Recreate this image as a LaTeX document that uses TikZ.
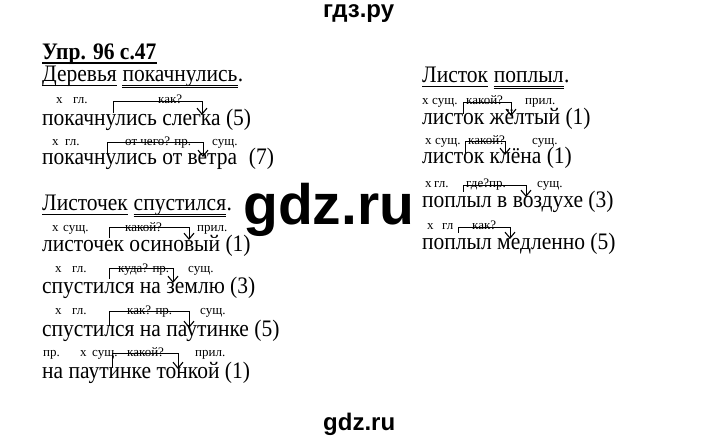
\documentclass[tikz,border=0pt]{standalone}
\usepackage{graphicx}
\usepackage{fontspec}
\setmainfont{Liberation Serif}
\newfontfamily\arsans{Liberation Sans}
\usetikzlibrary{arrows.meta}
\newcommand\tallt[1]{\scalebox{1}[1.1]{#1}}
\begin{document}
\begin{tikzpicture}[x=1pt,y=-1pt,
  main/.style={anchor=base west, inner sep=0pt, text height=12pt, text depth=3pt, font=\fontsize{21.5}{24}\selectfont},
  lab/.style={anchor=base west, inner sep=0pt, text height=7pt, text depth=1pt, font=\fontsize{13}{15}\selectfont},
  wm/.style={anchor=base west, inner sep=0pt, font=\arsans\bfseries\fontsize{24}{28}\selectfont},
  ul/.style={line width=0.8pt},
  brk/.style={line width=0.9pt, -{Straight Barb[length=6pt,width=10pt,line width=1.1pt]}}]
\useasboundingbox[fill=white] (0,0) rectangle (720,443);
% watermarks
\node[wm, text height=13pt] (wtop) at (323,18) {гдз.ру};
\node[wm] (wbot) at (323,430) {gdz.ru};
\node[wm, font=\arsans\bfseries\fontsize{57}{60}\selectfont] (wmid) at (243,225) {gdz.ru};
% heading
\node[main, font=\bfseries\fontsize{21.5}{24}\selectfont] (hd) at (42,60) {\tallt{Упр. 96 с.47}};
\draw[line width=1.3pt] ([yshift=-3pt]hd.base west) -- ([yshift=-3pt]hd.base east);
% ---------- group 1
\node[main] (a1) at (42,82) {\tallt{Деревья}};
\node[main] (a2) at ([xshift=5.4pt]a1.base east) {\tallt{покачнулись}};
\node[main] (a3) at (a2.base east) {\tallt{.}};
\draw[ul] ([yshift=-3pt]a1.base west) -- ([yshift=-3pt]a1.base east);
\draw[ul] ([yshift=-3pt]a2.base west) -- ([yshift=-3pt]a2.base east);
\draw[ul] ([yshift=-5.5pt]a2.base west) -- ([yshift=-5.5pt]a2.base east);
% row 1
\node[lab] (l1a) at (56,104) {х};
\node[lab] (l1b) at (73,104) {гл.};
\node[lab] (l1c) at (158,104) {как?};
\node[main] (m1) at (42,126) {\tallt{покачнулись слегка (5)}};
\coordinate (b1s) at (113,113);
\coordinate (b1t) at (202,101);
\coordinate (b1e) at (202,115);
\draw[brk] (b1s) |- (b1t) -- (b1e);
% row 2
\node[lab] (l2a) at (52,146) {х};
\node[lab] (l2b) at (65,146) {гл.};
\node[lab] (l2c) at (125,146) {от чего? пр.};
\node[lab] (l2d) at (212,146) {сущ.};
\node[main] (m2) at (42,165) {\tallt{покачнулись от ветра\hspace{0.3em} (7)}};
\coordinate (b2s) at (107,155);
\coordinate (b2t) at (203,142);
\coordinate (b2e) at (203,157);
\draw[brk] (b2s) |- (b2t) -- (b2e);
% ---------- group 2
\node[main] (c1) at (42,211) {\tallt{Листочек}};
\node[main] (c2) at ([xshift=5.4pt]c1.base east) {\tallt{спустился}};
\node[main] (c3) at (c2.base east) {\tallt{.}};
\draw[ul] ([yshift=-3pt]c1.base west) -- ([yshift=-3pt]c1.base east);
\draw[ul] ([yshift=-3pt]c2.base west) -- ([yshift=-3pt]c2.base east);
\draw[ul] ([yshift=-5.5pt]c2.base west) -- ([yshift=-5.5pt]c2.base east);
% row 3
\node[lab] (l3a) at (52,232) {х};
\node[lab] (l3b) at (63,232) {сущ.};
\node[lab] (l3c) at (125,232) {какой?};
\node[lab] (l3d) at (197,232) {прил.};
\node[main] (m3) at (42,252) {\tallt{листочек осиновый (1)}};
\coordinate (b3s) at (109,238);
\coordinate (b3t) at (189,227);
\coordinate (b3e) at (189,240);
\draw[brk] (b3s) |- (b3t) -- (b3e);
% row 4
\node[lab] (l4a) at (55,273) {х};
\node[lab] (l4b) at (72,273) {гл.};
\node[lab] (l4c) at (118,273) {куда? пр.};
\node[lab] (l4d) at (188,273) {сущ.};
\node[main] (m4) at (42,294) {\tallt{спустился на землю (3)}};
\coordinate (b4s) at (109,279);
\coordinate (b4t) at (173,268);
\coordinate (b4e) at (173,283);
\draw[brk] (b4s) |- (b4t) -- (b4e);
% row 5
\node[lab] (l5a) at (55,315) {х};
\node[lab] (l5b) at (72,315) {гл.};
\node[lab] (l5c) at (127,315) {как? пр.};
\node[lab] (l5d) at (200,315) {сущ.};
\node[main] (m5) at (42,337) {\tallt{спустился на паутинке (5)}};
\coordinate (b5s) at (109,326);
\coordinate (b5t) at (189,311);
\coordinate (b5e) at (189,328);
\draw[brk] (b5s) |- (b5t) -- (b5e);
% row 6
\node[lab] (l6a) at (43,357) {пр.};
\node[lab] (l6b) at (80,357) {х};
\node[lab] (l6c) at (92,357) {сущ.};
\node[lab] (l6d) at (127,357) {какой?};
\node[lab] (l6e) at (195,357) {прил.};
\node[main] (m6) at (42,379) {\tallt{на паутинке тонкой (1)}};
\coordinate (b6s) at (112,368);
\coordinate (b6t) at (178,353);
\coordinate (b6e) at (178,369);
\draw[brk] (b6s) |- (b6t) -- (b6e);
% ---------- right group
\node[main] (r1) at (422,83) {\tallt{Листок}};
\node[main] (r2) at ([xshift=5.4pt]r1.base east) {\tallt{поплыл}};
\node[main] (r3) at (r2.base east) {\tallt{.}};
\draw[ul] ([yshift=-3pt]r1.base west) -- ([yshift=-3pt]r1.base east);
\draw[ul] ([yshift=-3pt]r2.base west) -- ([yshift=-3pt]r2.base east);
\draw[ul] ([yshift=-5.5pt]r2.base west) -- ([yshift=-5.5pt]r2.base east);
% right row 1
\node[lab] (k1a) at (422,105) {х};
\node[lab] (k1b) at (432,105) {сущ.};
\node[lab] (k1c) at (466,105) {какой?};
\node[lab] (k1d) at (525,105) {прил.};
\node[main] (n1) at (422,125) {\tallt{листок жёлтый (1)}};
\coordinate (d1s) at (463,114);
\coordinate (d1t) at (511,102);
\coordinate (d1e) at (511,116);
\draw[brk] (d1s) |- (d1t) -- (d1e);
% right row 2
\node[lab] (k2a) at (425,145) {х};
\node[lab] (k2b) at (435,145) {сущ.};
\node[lab] (k2c) at (468,145) {какой?};
\node[lab] (k2d) at (532,145) {сущ.};
\node[main] (n2) at (422,164) {\tallt{листок клёна (1)}};
\coordinate (d2s) at (465,153);
\coordinate (d2t) at (505,141);
\coordinate (d2e) at (505,155);
\draw[brk] (d2s) |- (d2t) -- (d2e);
% right row 3
\node[lab] (k3a) at (425,188) {х};
\node[lab] (k3b) at (434,188) {гл.};
\node[lab] (k3c) at (466,188) {где?пр.};
\node[lab] (k3d) at (537,188) {сущ.};
\node[main] (n3) at (422,208) {\tallt{поплыл в воздухе (3)}};
\coordinate (d3s) at (463,192);
\coordinate (d3t) at (526,185);
\coordinate (d3e) at (526,197);
\draw[brk] (d3s) |- (d3t) -- (d3e);
% right row 4
\node[lab] (k4a) at (427,230) {х};
\node[lab] (k4b) at (442,230) {гл};
\node[lab] (k4c) at (472,230) {как?};
\node[main] (n4) at (422,250) {\tallt{поплыл медленно (5)}};
\coordinate (d4s) at (458,233);
\coordinate (d4t) at (510,227);
\coordinate (d4e) at (510,239);
\draw[brk] (d4s) |- (d4t) -- (d4e);
\end{tikzpicture}
\end{document}
